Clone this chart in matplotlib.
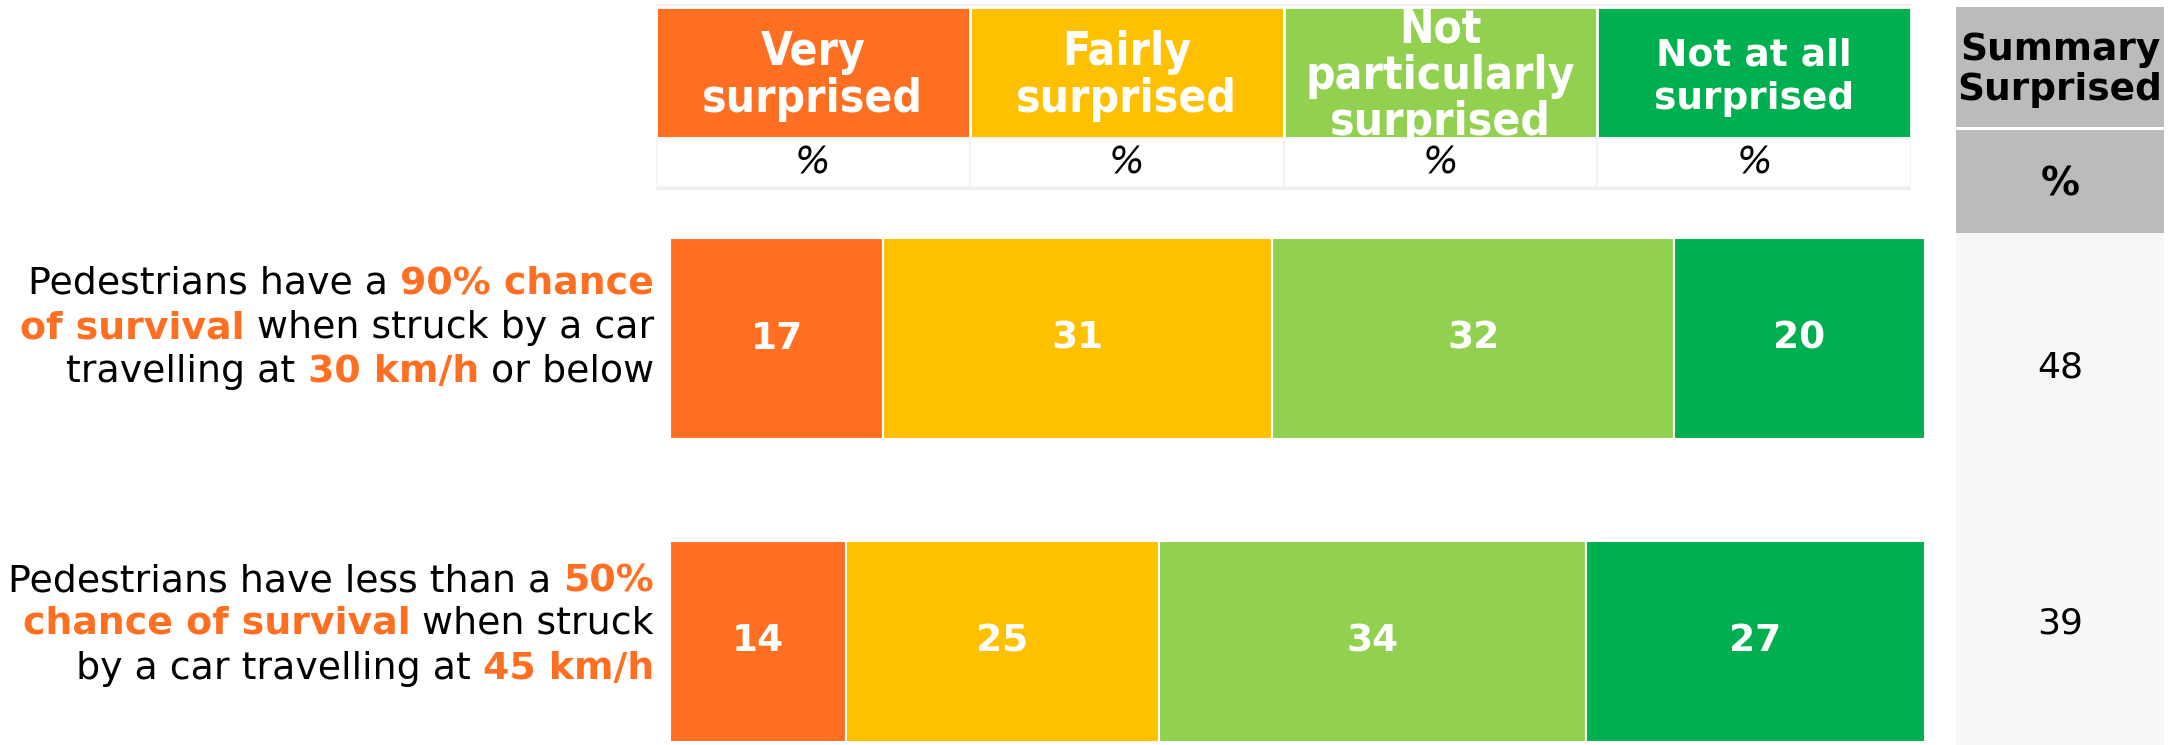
import matplotlib
matplotlib.use("Agg")
import matplotlib.pyplot as plt
from matplotlib.patches import Rectangle
import numpy as np

# data
categories = ["Very\nsurprised", "Fairly\nsurprised", "Not\nparticularly\nsurprised", "Not at all\nsurprised"]
colors = ["#FF6F21", "#FFC000", "#92D050", "#00B050"]
very = [17, 14]
fairly = [31, 25]
not_part = [32, 34]
not_at_all = [20, 27]
summary = [48, 39]
# statement labels: list of lines, each a list of (text, highlighted)
statements = [
    [[("Pedestrians have a", False), ("90% chance", True)],
     [("of survival", True), ("when struck by a car", False)],
     [("travelling at", False), ("30 km/h", True), ("or below", False)]],
    [[("Pedestrians have less than a", False), ("50%", True)],
     [("chance of survival", True), ("when struck", False)],
     [("by a car travelling at", False), ("45 km/h", True)]],
]

W, H = 2171, 745
fig = plt.figure(figsize=(W / 100, H / 100), dpi=100)
fig.patch.set_facecolor("white")
orange = "#FF6F21"

def fx(x):
    return x / W

def fy(y):
    return 1 - y / H

# ---- bars
ax = fig.add_axes([fx(670), fy(742), 1255 / W, 504 / H])
ypos = np.array([1, 0])
series = [very, fairly, not_part, not_at_all]
left = np.zeros(2)
for vals, col in zip(series, colors):
    bars = ax.barh(ypos, vals, left=left, height=0.663, color=col,
                   edgecolor="white", linewidth=1.5)
    ax.bar_label(bars, label_type="center", color="white", fontsize=27,
                 fontweight="bold")
    left += np.array(vals)
ax.set_xlim(0, 100)
ax.set_ylim(-0.3317, 1.3317)
ax.axis("off")

# ---- header
axh = fig.add_axes([fx(656), fy(190), 1255 / W, 186 / H])
axh.set_xlim(0, 4)
axh.set_ylim(190, 4)
axh.axis("off")
axh.add_patch(Rectangle((0, 5), 4, 184, facecolor="white", edgecolor="#EEEEEE", lw=2))
for i, (cat, col) in enumerate(zip(categories, colors)):
    cell = Rectangle((i, 7), 1, 131, facecolor=col, edgecolor="white", lw=2)
    axh.add_patch(cell)
    axh.add_patch(Rectangle((i, 138), 1, 49, facecolor="white", edgecolor="#F2F2F2", lw=1.5))
    if i < 3:
        txt = axh.text(i + 0.5, 76, cat, ha="center", va="center", color="white",
                       fontsize=33, fontweight="bold", fontstretch="condensed",
                       linespacing=1.03)
        txt.set_clip_path(cell)
    else:
        axh.text(i + 0.5, 77, cat, ha="center", va="center", color="white",
                 fontsize=27, fontweight="bold", linespacing=1.25)
    axh.text(i + 0.5, 163, "%", ha="center", va="center", color="black",
             fontsize=27, fontstyle="italic")

# ---- summary column
axs = fig.add_axes([fx(1956), 0, 208 / W, 741 / H])
axs.set_xlim(0, 1)
axs.set_ylim(745, 4)
axs.axis("off")
axs.add_patch(Rectangle((0, 7), 1, 120, facecolor="#BBBBBB", edgecolor="none"))
axs.add_patch(Rectangle((0, 130), 1, 103, facecolor="#BBBBBB", edgecolor="none"))
axs.add_patch(Rectangle((0, 233), 1, 512, facecolor="#F7F7F7", edgecolor="none"))
axs.text(0.5, 70, "Summary\nSurprised", ha="center", va="center", fontsize=27,
         fontweight="bold", linespacing=1.15)
axs.text(0.5, 184, "%", ha="center", va="center", fontsize=28, fontweight="bold")
for val, yc in zip(summary, [367, 624]):
    axs.text(0.5, yc, str(val), ha="center", va="center", fontsize=26)

# ---- statement labels (mixed style, right aligned)
renderer = fig.canvas.get_renderer()
fs = 27.3
space = fs * 100 / 72 * 0.318
line_y = [[284, 328, 372], [581, 624, 669]]
for lines, ys in zip(statements, line_y):
    for segs, y in zip(lines, ys):
        xr = 654
        for k, (txt, hl) in enumerate(reversed(segs)):
            t = fig.text(fx(xr), fy(y), txt, ha="right", va="center", fontsize=fs,
                         color=orange if hl else "black",
                         fontweight="bold" if hl else "normal")
            bb = t.get_window_extent(renderer)
            xr = bb.x0 - space

fig.savefig("out.png", dpi=100)
